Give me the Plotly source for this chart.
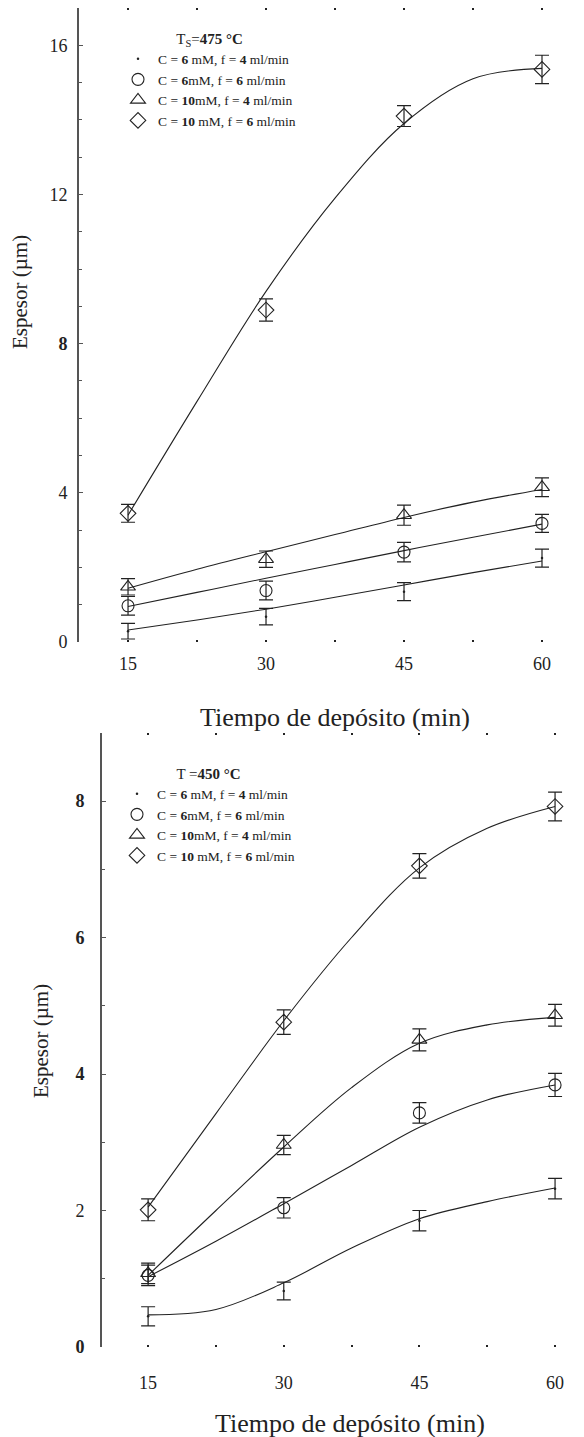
import plotly.graph_objects as go

FONT = "Liberation Serif"
INK = "#222222"
W, H = 584, 1437

minutes = [15, 30, 45, 60]
fit_minutes = [15, 22.5, 30, 37.5, 45, 52.5, 60]
x_tick_vals = [15, 30, 45, 60]
x_tick_text = ["15", "30", "45", "60"]

series_names = [
    "C = <b>6</b> mM, f = <b>4</b> ml/min",
    "C = <b>6</b>mM, f = <b>6</b> ml/min",
    "C = <b>10</b>mM, f = <b>4</b> ml/min",
    "C = <b>10</b> mM, f = <b>6</b> ml/min",
]
series_symbols = ["circle", "circle-open", "triangle-up-open", "diamond-open"]

# ---- Ts = 475 °C ----
t475_c6f4 = [0.29, 0.68, 1.35, 2.25]
t475_c6f4_err = [0.21, 0.22, 0.24, 0.24]
t475_c6f6 = [0.97, 1.38, 2.41, 3.18]
t475_c6f6_err = [0.25, 0.25, 0.26, 0.24]
t475_c10f4 = [1.48, 2.22, 3.40, 4.15]
t475_c10f4_err = [0.22, 0.22, 0.27, 0.25]
t475_c10f6 = [3.45, 8.90, 14.10, 15.35]
t475_c10f6_err = [0.24, 0.30, 0.28, 0.38]

t475_fit_c6f4 = [0.32, 0.59, 0.88, 1.20, 1.53, 1.86, 2.17]
t475_fit_c6f6 = [0.95, 1.33, 1.71, 2.08, 2.45, 2.81, 3.16]
t475_fit_c10f4 = [1.44, 1.95, 2.42, 2.88, 3.34, 3.75, 4.09]
t475_fit_c10f6 = [3.40, 6.45, 9.40, 11.90, 13.90, 15.10, 15.38]

# ---- T = 450 °C ----
t450_c6f4 = [0.45, 0.82, 1.85, 2.32]
t450_c6f4_err = [0.14, 0.13, 0.15, 0.15]
t450_c6f6 = [1.05, 2.04, 3.43, 3.84]
t450_c6f6_err = [0.15, 0.15, 0.15, 0.17]
t450_c10f4 = [1.08, 2.96, 4.50, 4.86]
t450_c10f4_err = [0.15, 0.14, 0.16, 0.16]
t450_c10f6 = [2.01, 4.76, 7.05, 7.92]
t450_c10f6_err = [0.16, 0.18, 0.18, 0.21]

t450_fit_c6f4 = [0.47, 0.55, 0.94, 1.45, 1.88, 2.13, 2.33]
t450_fit_c6f6 = [1.03, 1.55, 2.10, 2.66, 3.22, 3.62, 3.84]
t450_fit_c10f4 = [1.05, 2.00, 2.93, 3.80, 4.45, 4.72, 4.83]
t450_fit_c10f6 = [2.05, 3.42, 4.78, 6.00, 7.02, 7.60, 7.92]

panels = [
    dict(xa="x", ya="y", legend="legend",
         values=[t475_c6f4, t475_c6f6, t475_c10f4, t475_c10f6],
         errors=[t475_c6f4_err, t475_c6f6_err, t475_c10f4_err, t475_c10f6_err],
         fits=[t475_fit_c6f4, t475_fit_c6f6, t475_fit_c10f4, t475_fit_c10f6]),
    dict(xa="x2", ya="y2", legend="legend2",
         values=[t450_c6f4, t450_c6f6, t450_c10f4, t450_c10f6],
         errors=[t450_c6f4_err, t450_c6f6_err, t450_c10f4_err, t450_c10f6_err],
         fits=[t450_fit_c6f4, t450_fit_c6f6, t450_fit_c10f4, t450_fit_c10f6]),
]

fig = go.Figure()

for p in panels:
    # smooth trend curves
    for fit in p["fits"]:
        fig.add_trace(go.Scatter(
            x=fit_minutes, y=fit, mode="lines",
            line=dict(color=INK, width=1.1, shape="spline", smoothing=1.0),
            xaxis=p["xa"], yaxis=p["ya"], showlegend=False, hoverinfo="skip"))
    # measured points with error bars
    for name, sym, vals, errs in zip(series_names, series_symbols, p["values"], p["errors"]):
        if sym == "circle":
            # series drawn as bare error bars with a tiny dot
            marker = dict(symbol="circle", size=2.5, color=INK, line=dict(width=0))
        else:
            marker = dict(symbol=sym, size=13 if sym == "triangle-up-open" else 12,
                          color=INK, line=dict(width=1.1, color=INK))
        fig.add_trace(go.Scatter(
            x=minutes, y=vals, mode="markers", name=name, marker=marker,
            error_y=dict(type="data", array=errs, visible=True,
                         color=INK, thickness=1.2, width=7),
            xaxis=p["xa"], yaxis=p["ya"], legend=p["legend"]))

tick_font = dict(family=FONT, size=18, color=INK)


def x_axis(rng, domain, anchor, standoff):
    return dict(
        range=rng, domain=domain, anchor=anchor,
        showline=False, showgrid=False, zeroline=False,
        tickmode="array", tickvals=x_tick_vals, ticktext=x_tick_text,
        ticks="inside", ticklen=2, tickwidth=2, tickcolor=INK, mirror="ticks",
        minor=dict(dtick=7.5, tick0=0, ticks="inside", ticklen=2, tickwidth=2,
                   tickcolor=INK, showgrid=False),
        tickfont=tick_font, ticklabelstandoff=standoff, automargin=False)


def y_axis(rng, domain, anchor, vals, text, standoff):
    return dict(
        range=rng, domain=domain, anchor=anchor,
        showline=True, linecolor="#555555", linewidth=1.6,
        showgrid=False, zeroline=False,
        tickmode="array", tickvals=vals, ticktext=text,
        ticks="inside", ticklen=4, tickwidth=1, tickcolor="#555555",
        minor=dict(dtick=1, tick0=0, ticks="inside", ticklen=3, tickwidth=1,
                   tickcolor="#555555", showgrid=False),
        tickfont=tick_font, ticklabelstandoff=standoff, automargin=False)


legend_common = dict(
    xanchor="left", yanchor="top", bgcolor="rgba(0,0,0,0)", borderwidth=0,
    font=dict(family=FONT, size=13.5, color=INK), itemwidth=30,
    tracegroupgap=0, itemclick=False, itemdoubleclick=False)

title_font = dict(family=FONT, size=21, color=INK)
axis_title_font = dict(family=FONT, size=26, color=INK)

fig.update_layout(
    width=W, height=H,
    margin=dict(l=0, r=0, t=0, b=0),
    paper_bgcolor="white", plot_bgcolor="white",
    font=dict(family=FONT, color=INK),
    xaxis=x_axis([9.67, 64.5], [79 / W, 583.4 / W], "y", 9),
    yaxis=y_axis([0, 17], [1 - 642 / H, 1 - 7.9 / H], "x",
                 [0, 4, 8, 12, 16], ["0", "4", "<b>8</b>", "12", "16"], 6),
    xaxis2=x_axis([9.9, 63.2], [102 / W, 1.0], "y2", 23),
    yaxis2=y_axis([0, 9], [1 - 1347 / H, 1 - 732.75 / H], "x2",
                  [0, 2, 4, 6, 8], ["<b>0</b>", "2", "<b>4</b>", "<b>6</b>", "<b>8</b>"], 12),
    legend=dict(x=118 / W, y=1 - 24 / H,
                title=dict(text="T<sub>S</sub>=<b>475 °C</b>", side="top center",
                           font=dict(family=FONT, size=15, color=INK)),
                **legend_common),
    legend2=dict(x=117 / W, y=1 - 759 / H,
                 title=dict(text="T =<b>450 °C</b>", side="top center",
                            font=dict(family=FONT, size=15, color=INK)),
                 **legend_common),
    annotations=[
        dict(text="Espesor (µm)", x=20 / W, y=1 - 292 / H, xref="paper", yref="paper",
             xanchor="center", yanchor="middle",
             textangle=-90, showarrow=False, font=title_font),
        dict(text="Tiempo de depósito (min)", x=335 / W, y=1 - 717 / H,
             xref="paper", yref="paper", xanchor="center", yanchor="middle",
             showarrow=False, font=axis_title_font),
        dict(text="Espesor (µm)", x=41 / W, y=1 - 1041 / H, xref="paper", yref="paper",
             xanchor="center", yanchor="middle",
             textangle=-90, showarrow=False, font=title_font),
        dict(text="Tiempo de depósito (min)", x=350 / W, y=1 - 1423 / H,
             xref="paper", yref="paper", xanchor="center", yanchor="middle",
             showarrow=False, font=axis_title_font),
    ],
)

fig.write_html("out.html")
